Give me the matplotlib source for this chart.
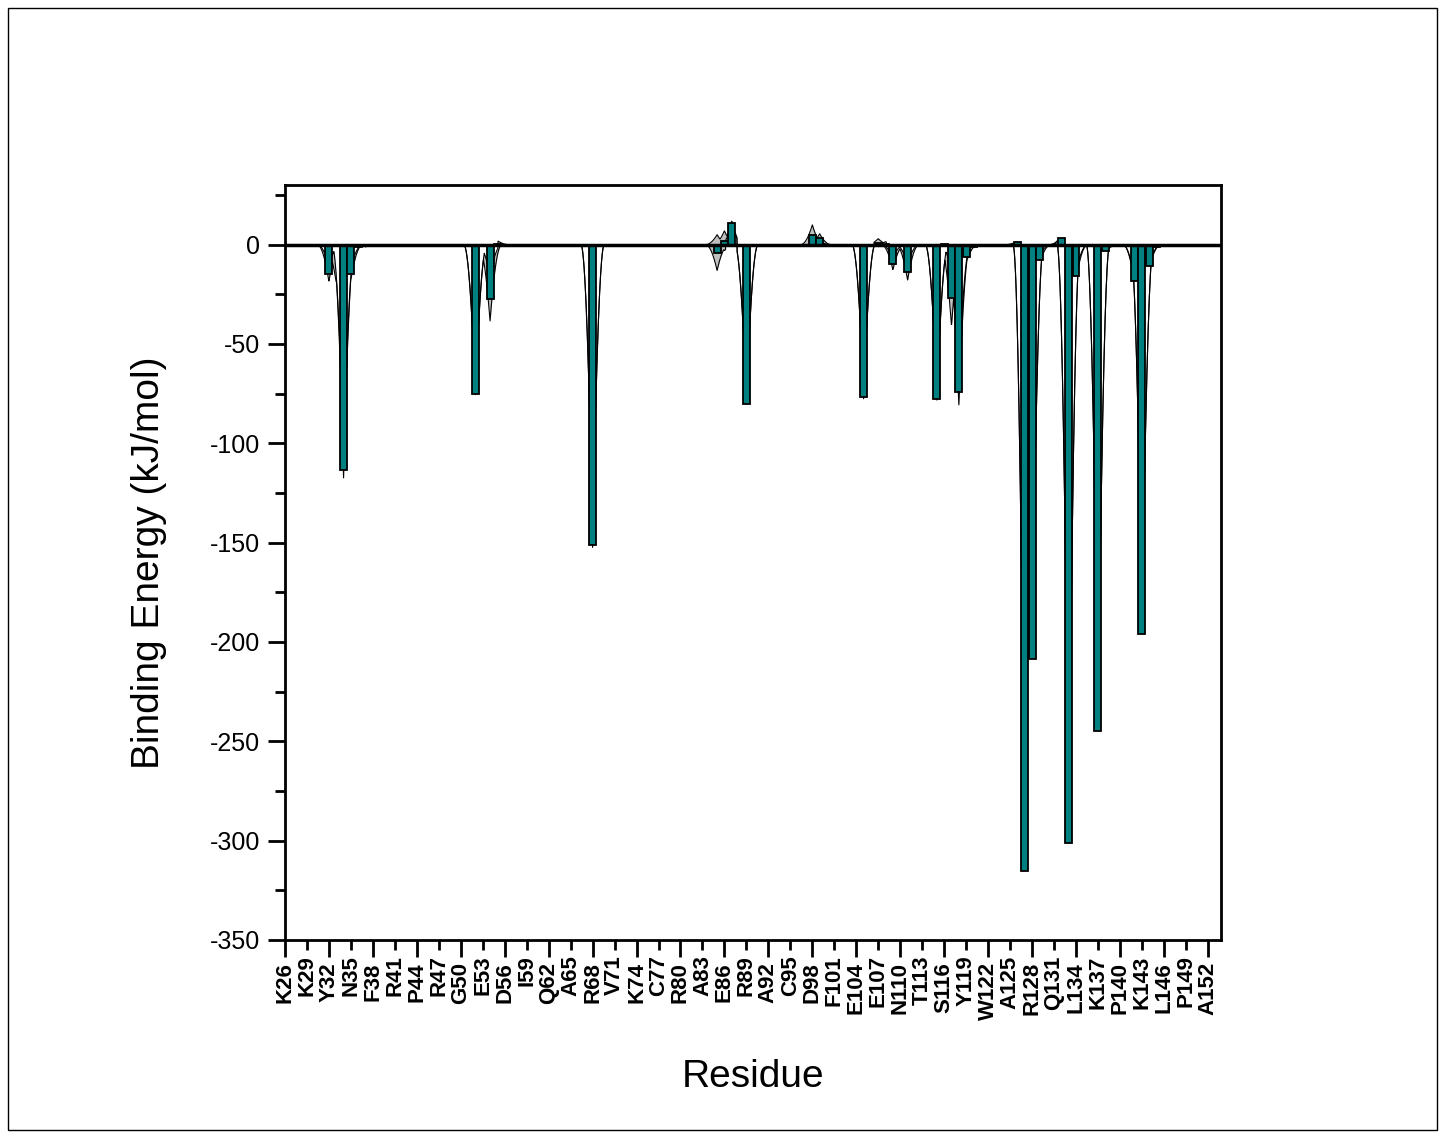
import numpy as np
import matplotlib
matplotlib.use("Agg")
import matplotlib.pyplot as plt
from matplotlib.patches import Rectangle
from matplotlib.ticker import FixedLocator, FixedFormatter, MultipleLocator

plt.rcParams['font.family'] = ['Liberation Sans', 'DejaVu Sans']
plt.rcParams['axes.unicode_minus'] = False

# per-residue binding energy (kJ/mol) and its spread, only residues that contribute
res = [32, 33, 34, 35, 36, 37, 38, 52, 54, 55, 68, 85, 86, 87, 89, 98, 99, 105, 107,
       108, 109, 111, 115, 116, 117, 118, 119, 120, 121, 126, 127, 128, 129, 132,
       133, 134, 137, 138, 142, 143, 144, 145, 146]
energy = [-14.6, -10.0, -113.6, -14.6, -1.0, -0.8, -0.5, -75.4, -27.6, 0.5, -151.4,
          -4.0, 2.0, 11.0, -80.0, 5.0, 3.5, -76.8, 1.0, 0.5, -9.6, -14.0, -77.6, 0.5,
          -27.0, -74.4, -6.0, -1.0, -0.5, 1.2, -315.3, -208.7, -7.5, 3.5, -301.0,
          -15.6, -244.9, -3.0, -18.4, -196.0, -10.6, -1.0, -0.5]
spread = [4.0, 9.0, 4.0, 3.0, 0.3, 0.3, 0.2, 1.0, 11.0, 1.5, 1.0, 9.0, 5.0, 1.0,
          1.0, 5.0, 2.0, 1.0, 2.0, 1.0, 3.0, 4.0, 1.0, 1.0, 14.0, 7.0, 3.0, 0.5, 0.3,
          0.5, 1.0, 1.0, 2.0, 1.0, 1.0, 2.0, 1.0, 1.0, 1.0, 1.0, 1.0, 0.3, 0.2]

tick_res = list(range(26, 153, 3))
tick_names = ["K26", "K29", "Y32", "N35", "F38", "R41", "P44", "R47", "G50", "E53",
              "D56", "I59", "Q62", "A65", "R68", "V71", "K74", "C77", "R80", "A83",
              "E86", "R89", "A92", "C95", "D98", "F101", "E104", "E107", "N110",
              "T113", "S116", "Y119", "W122", "A125", "R128", "Q131", "L134",
              "K137", "P140", "K143", "L146", "P149", "A152"]

res = np.array(res, dtype=float)
energy = np.array(energy)
spread = np.array(spread)


def kernel(d, w=1.6):
    return np.clip(1 - np.abs(d) / w, 0, None) ** 2


def smooth_curve(xs, xr, v):
    # each residue spreads a peaked profile; keep the strongest one at every x
    parts = kernel(xs[:, None] - xr[None, :]) * v[None, :]
    pick = np.argmax(np.abs(parts), axis=1)
    return parts[np.arange(len(xs)), pick]


xs = np.linspace(24, 156, 4000)
upper = smooth_curve(xs, res, energy + spread)
lower = smooth_curve(xs, res, energy - spread)

fig = plt.figure(figsize=(14.45, 11.38), dpi=100)
fig.patches.append(Rectangle((8 / 1445, 8 / 1138), 1429 / 1445, 1122 / 1138,
                             transform=fig.transFigure, fill=False,
                             edgecolor="black", linewidth=1))
ax = fig.add_axes([0.1972, 0.174, 0.6478, 0.6634])

ax.fill_between(xs, lower, upper, color="#c0c0c0", zorder=1, linewidth=0)
ax.plot(xs, upper, color="black", linewidth=0.8, zorder=2)
ax.plot(xs, lower, color="black", linewidth=0.8, zorder=2)
# residue 33 only carries spread, no bar
bar_mask = res != 33
ax.bar(res[bar_mask], energy[bar_mask], width=0.95, color="#008080",
       edgecolor="black", linewidth=1.3, zorder=3)
ax.axhline(0, color="black", linewidth=2.5, zorder=4)

ax.set_xlim(26, 153.8)
ax.set_ylim(-350, 30)

ax.xaxis.set_major_locator(FixedLocator(tick_res[::2]))
ax.xaxis.set_major_formatter(FixedFormatter(tick_names[::2]))
ax.xaxis.set_minor_locator(FixedLocator(tick_res[1::2]))
ax.xaxis.set_minor_formatter(FixedFormatter(tick_names[1::2]))
ax.yaxis.set_major_locator(MultipleLocator(50))
ax.yaxis.set_minor_locator(MultipleLocator(25))

ax.tick_params(axis="x", which="both", direction="out", labelrotation=90,
               labelsize=16, width=2, pad=4)
ax.tick_params(axis="x", which="major", length=12)
ax.tick_params(axis="x", which="minor", length=7)
ax.tick_params(axis="y", which="major", direction="out", length=12, width=2,
               labelsize=18, pad=6)
ax.tick_params(axis="y", which="minor", direction="out", length=7, width=2)
for lab in ax.get_xticklabels(which="both"):
    lab.set_fontweight("bold")

for sp in ax.spines.values():
    sp.set_linewidth(2)

ax.set_ylabel("Binding Energy (kJ/mol)", fontsize=28, labelpad=31)
ax.set_xlabel("Residue", fontsize=28, labelpad=28)

fig.savefig("out.png", dpi=100)
